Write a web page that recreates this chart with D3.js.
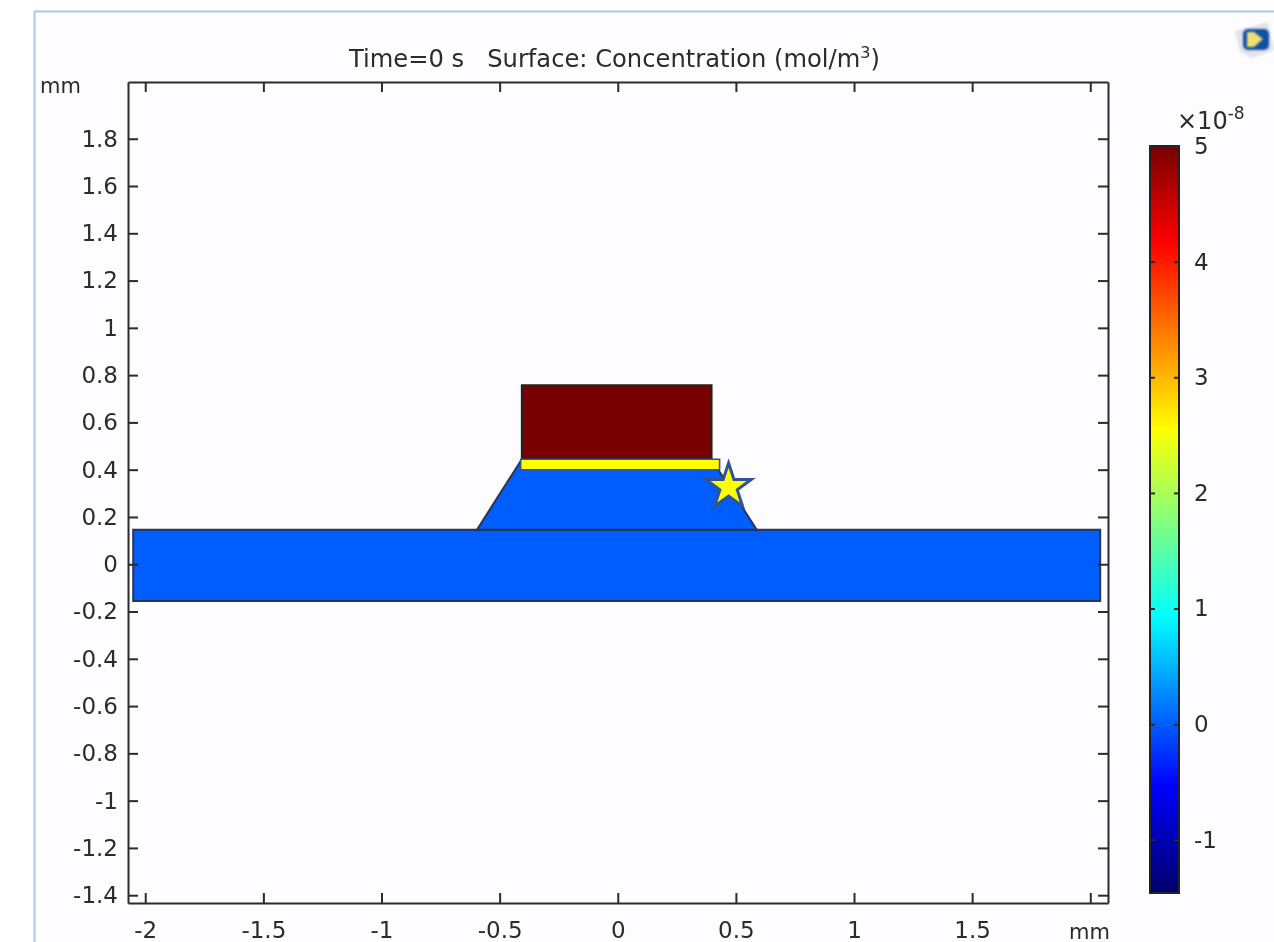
<!DOCTYPE html>
<html>
<head>
<meta charset="utf-8">
<script src="https://cdn.jsdelivr.net/npm/d3@7"></script>
<style>
  html, body { margin: 0; padding: 0; background: #fff; overflow: hidden; }
  svg { display: block; filter: blur(0.6px); }
  text { font-family: "DejaVu Sans", sans-serif; fill: #2b2b2b; }
</style>
</head>
<body>
<svg class="chart"></svg>
<script>
// axis ticks (mm)
const xTicks = [-2, -1.5, -1, -0.5, 0, 0.5, 1, 1.5, 2];
const yTicks = [-1.4, -1.2, -1, -0.8, -0.6, -0.4, -0.2, 0, 0.2, 0.4, 0.6, 0.8, 1, 1.2, 1.4, 1.6, 1.8];

// colour bar, in units of 1e-8 mol/m3
const colorTicks = [-1, 0, 1, 2, 3, 4, 5];
const stopValues = [-1.46, -0.53, 0.93, 2.55, 4.16, 5];
const stopColors = ['#00006a', '#0000ff', '#00ffff', '#ffff00', '#ff0000', '#780000'];

// geometry outlines, mm
const substrateX = [-2.051, 2.042, 2.042, -2.051];
const substrateY = [0.146, 0.146, -0.155, -0.155];
const mesaX = [-0.596, -0.406, 0.397, 0.588];
const mesaY = [0.146, 0.444, 0.444, 0.146];
const sourceX = [-0.406, 0.397, 0.397, -0.406];
const sourceY = [0.757, 0.757, 0.444, 0.444];
const stripX = [-0.411, 0.431, 0.431, -0.411];
const stripY = [0.444, 0.444, 0.400, 0.400];
const starPos = [0.469, 0.327];

// concentration of each region at t = 0
const substrateValue = 0;
const mesaValue = 0;
const sourceValue = 5;

const width = 1274;
const height = 942;
const frame = { left: 128, right: 1108, top: 82, bottom: 903 };
const bar = { left: 1150, right: 1179, top: 146, bottom: 893 };

const svg = d3.select('.chart').attr('width', width).attr('height', height);

// Panel behind everything
svg.append('rect').attr('x', 34.5).attr('y', 11.5)
  .attr('width', width).attr('height', height)
  .attr('fill', '#fdfdff').attr('stroke', '#b0c6e8').attr('stroke-width', 2);

const x = d3.scaleLinear().domain([-2.073, 2.075]).range([frame.left, frame.right]);
const y = d3.scaleLinear().domain([-1.433, 2.04]).range([frame.bottom, frame.top]);
const barY = d3.scaleLinear().domain([-1.46, 5]).range([bar.bottom, bar.top]);
const color = d3.scaleLinear().domain(stopValues).range(stopColors);

const outline = (xs, ys) => d3.line()(xs.map((v, i) => [x(v), y(ys[i])])) + 'Z';

// Regions
svg.append('path').attr('d', outline(substrateX, substrateY))
  .attr('fill', color(substrateValue)).attr('stroke', '#2a3550').attr('stroke-width', 2);
svg.append('path').attr('d', outline(mesaX, mesaY))
  .attr('fill', color(mesaValue)).attr('stroke', '#2a3550').attr('stroke-width', 2);
svg.append('path').attr('d', outline(sourceX, sourceY))
  .attr('fill', color(sourceValue)).attr('stroke', '#222').attr('stroke-width', 2);

// Yellow strip and star drawn over the plot
svg.append('path').attr('d', outline(stripX, stripY))
  .attr('fill', '#ffff00').attr('stroke', '#2f5597').attr('stroke-width', 1.6);
svg.append('path')
  .attr('transform', 'translate(' + x(starPos[0]) + ',' + y(starPos[1]) + ')')
  .attr('d', d3.symbol(d3.symbolStar, 640)())
  .attr('fill', '#ffff00').attr('stroke', '#2f5597').attr('stroke-width', 3);

// Frame: ticks point inward on all four sides
function styleAxis(g) {
  g.selectAll('path').attr('stroke', '#2b2b2b').attr('stroke-width', 2);
  g.selectAll('line').attr('stroke', '#2b2b2b').attr('stroke-width', 2);
  g.selectAll('text').attr('font-size', 23).attr('font-family', null).attr('fill', null);
}
const fmt = d => String(+d.toFixed(1));
svg.append('g').attr('transform', 'translate(' + frame.left + ',0)')
  .call(d3.axisLeft(y).tickValues(yTicks).tickFormat(fmt).tickSizeInner(-10).tickSizeOuter(0).tickPadding(10))
  .call(styleAxis);
svg.append('g').attr('transform', 'translate(' + frame.right + ',0)')
  .call(d3.axisRight(y).tickValues(yTicks).tickFormat('').tickSizeInner(-10).tickSizeOuter(0))
  .call(g => g.selectAll('.tick text').remove())
  .call(styleAxis);
// the last x label gives way to the unit, as in the reference
svg.append('g').attr('transform', 'translate(0,' + frame.bottom + ')')
  .call(d3.axisBottom(x).tickValues(xTicks).tickFormat(fmt).tickSizeInner(-10).tickSizeOuter(0).tickPadding(19))
  .call(g => g.selectAll('.tick text').filter(d => d === 2).remove())
  .call(styleAxis);
svg.append('g').attr('transform', 'translate(0,' + frame.top + ')')
  .call(d3.axisTop(x).tickValues(xTicks).tickFormat('').tickSizeInner(-10).tickSizeOuter(0))
  .call(g => g.selectAll('.tick text').remove())
  .call(styleAxis);

svg.append('text').attr('x', 40).attr('y', 93).attr('font-size', 21).text('mm');
svg.append('text').attr('x', 1069).attr('y', 939).attr('font-size', 21).text('mm');

// Title
const title = svg.append('text').attr('x', 349).attr('y', 67).attr('font-size', 24.2)
  .style('white-space', 'pre');
title.append('tspan').text('Time=0 s   Surface: Concentration (mol/m');
title.append('tspan').attr('dy', -9).attr('font-size', 16).text('3');
title.append('tspan').attr('dy', 9).text(')');

// Colour bar
const grad = svg.append('defs').append('linearGradient')
  .attr('id', 'bar-grad').attr('x1', 0).attr('x2', 0).attr('y1', 1).attr('y2', 0);
grad.selectAll('stop').data(stopValues).enter().append('stop')
  .attr('offset', d => (d - stopValues[0]) / (stopValues[stopValues.length - 1] - stopValues[0]))
  .attr('stop-color', d => color(d));

svg.append('rect')
  .attr('x', bar.left).attr('y', barY(5))
  .attr('width', bar.right - bar.left).attr('height', barY(-1.46) - barY(5))
  .attr('fill', 'url(#bar-grad)').attr('stroke', '#222').attr('stroke-width', 2);

svg.append('g').attr('transform', 'translate(' + bar.right + ',0)')
  .call(d3.axisRight(barY).tickValues(colorTicks).tickFormat(fmt).tickSizeInner(-5).tickSizeOuter(0).tickPadding(15))
  .call(g => g.select('.domain').remove())
  .call(styleAxis);
svg.append('g').attr('transform', 'translate(' + bar.left + ',0)')
  .call(d3.axisLeft(barY).tickValues(colorTicks).tickFormat('').tickSizeInner(-5).tickSizeOuter(0))
  .call(g => g.select('.domain').remove())
  .call(g => g.selectAll('.tick text').remove())
  .call(styleAxis);

const exp = svg.append('text').attr('x', 1177).attr('y', 129).attr('font-size', 24);
exp.append('tspan').text('\u00d710');
exp.append('tspan').attr('dy', -10).attr('font-size', 17).text('-8');

// Small toolbar icon, top right
const icon = svg.append('g').style('filter', 'blur(0.8px)');
icon.append('path').attr('d', 'M1235,31 L1268,22 L1274,50 L1252,58 L1240,52 Z')
  .attr('fill', '#e2e2e8');
icon.append('rect').attr('x', 1243).attr('y', 29).attr('width', 26).attr('height', 21).attr('rx', 5)
  .attr('fill', '#0f4fa8');
icon.append('path').attr('d', 'M1247,32 L1254,32 L1263,39 L1254,47 L1247,47 Z').attr('fill', '#eee070');
</script>
</body>
</html>
